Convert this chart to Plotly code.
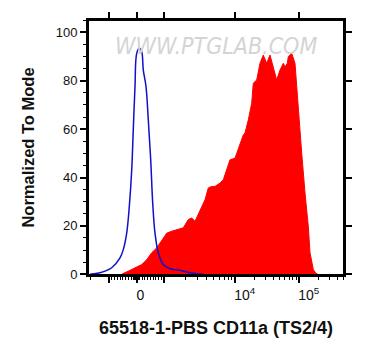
import math
import plotly.graph_objects as go

# ---- data (x in display channels of the biexponential axis, 0..256) ----
blue_x = [2, 12, 23.7, 32, 35.3, 38.7, 41.3, 43.7, 45.3, 47, 48.7, 51.3, 53.7, 55.3, 58,
          60.3, 62.7, 64.7, 67, 70.3, 75.3, 82, 92, 102, 112, 115]
blue_y = [0, 0.6, 2.7, 6.8, 10.2, 17, 28, 43, 60, 77.6, 91.3, 93.4, 92, 84.4, 77.6,
          63.8, 47.3, 29.5, 17, 8.9, 4, 2.3, 1.7, 0.6, 0.1, 0]

red_x = [34, 35, 40.3, 47, 53.7, 58.7, 63.7, 68.7, 72, 75.3, 78.7, 83.7, 90.3, 95.3,
         100.3, 103.7, 107, 112, 117, 120.3, 123.7, 127, 132, 135.3, 138.7, 142, 147,
         152, 155.3, 157, 160.3, 163.7, 165.3, 168.7, 172, 175.3, 178.7, 182, 185.3,
         188.7, 192, 195.3, 197, 199.3, 200.3, 203.7, 207, 210.3, 213.7, 217, 220.3, 222,
         225.3, 228, 230]
red_y = [0, 0.3, 1.3, 2.7, 4, 6, 8.9, 10.9, 13, 15, 17, 17.8, 18.5, 19.2,
         22.6, 23.3, 21.9, 26.7, 30.8, 35.7, 36.3, 36.3, 37.7, 39.1, 43.2, 47.3, 48,
         54.2, 57.6, 58.4, 63.8, 70.7, 79, 80.3, 87.2, 90.6, 87.2, 90.6, 85.8,
         80.3, 84.4, 87.2, 85.8, 87.2, 90.0, 91.3, 87.2, 68, 50.1, 33.6, 19.8, 8.9,
         2, 0.3, 0]

NB = "\u00a0"
x_major_vals = [-1000, 0, 1000, 10000, 100000]
x_major_text = [NB, NB * 2 + "0", NB, NB * 5 + "10<sup>4</sup>", NB * 5 + "10<sup>5</sup>"]
y_major_vals = [0, 20, 40, 60, 80, 100]
y_minor_vals = [5, 10, 15, 25, 30, 35, 45, 50, 55, 65, 70, 75, 85, 90, 95, 105]

x_title = "65518-1-PBS CD11a (TS2/4)"
y_title = "Normalized To Mode"
watermark = "WWW.PTGLAB.COM"


# ---- biexponential-like axis scale: value -> display channel ----
def to_ch(v):
    if v < -1000:
        return 21 - 63 * math.log10(-v / 1000)
    if v <= 1000:
        return 48.5 + 27.5 * v / 1000
    if v <= 10000:
        return 76 + 71 * math.log10(v / 1000)
    return 147 + 64 * math.log10(v / 10000)


minor_vals = []
minor_vals += [-k * 1000 for k in range(2, 10)]
minor_vals += [-k * 100 for k in range(1, 10)]
minor_vals += [k * 100 for k in range(1, 10)]
minor_vals += [k * 8 for k in range(-10, 11)]
minor_vals += [k * 1000 for k in range(2, 10)]
minor_vals += [k * 10000 for k in range(2, 10)]
minor_vals += [k * 100000 for k in range(2, 6)]
minor_ch = [to_ch(v) for v in minor_vals if 0 <= to_ch(v) <= 256]

fig = go.Figure()
fig.add_trace(go.Scatter(x=red_x, y=red_y, mode="lines", fill="tozeroy",
                         fillcolor="#ff0000", line=dict(color="#ff0000", width=1),
                         hoverinfo="skip"))
fig.add_trace(go.Scatter(x=blue_x, y=blue_y, mode="lines",
                         line=dict(color="#1010c8", width=1.5, shape="spline"),
                         hoverinfo="skip"))
# invisible trace anchoring the minor-tick axes
fig.add_trace(go.Scatter(x=[0], y=[0], xaxis="x2", yaxis="y2", mode="markers",
                         marker=dict(opacity=0), hoverinfo="skip"))

fig.add_annotation(text="<i>" + watermark + "</i>", x=0.5, y=0.955,
                   xref="paper", yref="paper", showarrow=False,
                   font=dict(family="DejaVu Sans Condensed, Liberation Sans, Arial",
                             size=23, color="#d4d4d4"))

# plot frame drawn as four separate line shapes
frame = [(0, 0, 1, 0), (1, 0, 1, 1), (1, 1, 0, 1), (0, 1, 0, 0)]
for x0, y0, x1, y1 in frame:
    fig.add_shape(type="line", xref="paper", yref="paper", x0=x0, y0=y0, x1=x1, y1=y1,
                  line=dict(color="#000000", width=2), layer="above")

fig.update_layout(
    width=357, height=352,
    margin=dict(l=80, r=21, t=12, b=85),
    paper_bgcolor="white", plot_bgcolor="white",
    showlegend=False,
    font=dict(family="Liberation Sans, Arial", color="#111111"),
    xaxis=dict(
        range=[0, 256], showgrid=False, zeroline=False,
        showline=True, linecolor="#000000", linewidth=2, mirror="all",
        tickmode="array", tickvals=[to_ch(v) for v in x_major_vals],
        ticktext=x_major_text, ticks="outside", ticklen=6, tickwidth=1.5,
        tickcolor="black", tickfont=dict(size=14),
        title=dict(text="<b>" + x_title + "</b>", font=dict(size=18), standoff=20),
        automargin=False,
    ),
    xaxis2=dict(
        range=[0, 256], overlaying="x", side="bottom", showgrid=False,
        zeroline=False, showline=False, tickmode="array", tickvals=minor_ch,
        showticklabels=False, ticks="outside", ticklen=4, tickwidth=1,
        tickcolor="black", automargin=False,
    ),
    yaxis=dict(
        range=[-0.3, 105.1], showgrid=False, zeroline=False,
        showline=True, linecolor="#000000", linewidth=2, mirror="all",
        tickmode="array", tickvals=y_major_vals, ticks="outside", ticklen=6,
        tickwidth=1.5, tickcolor="black", tickfont=dict(size=13),
        title=dict(text="<b>" + y_title + "</b>", font=dict(size=16.5), standoff=17),
        automargin=False,
    ),
    yaxis2=dict(
        range=[-0.3, 105.1], overlaying="y", side="left", showgrid=False,
        zeroline=False, showline=False, tickmode="array", tickvals=y_minor_vals,
        showticklabels=False, ticks="outside", ticklen=4, tickwidth=1,
        tickcolor="black", automargin=False,
    ),
)

fig.write_html("out.html")
